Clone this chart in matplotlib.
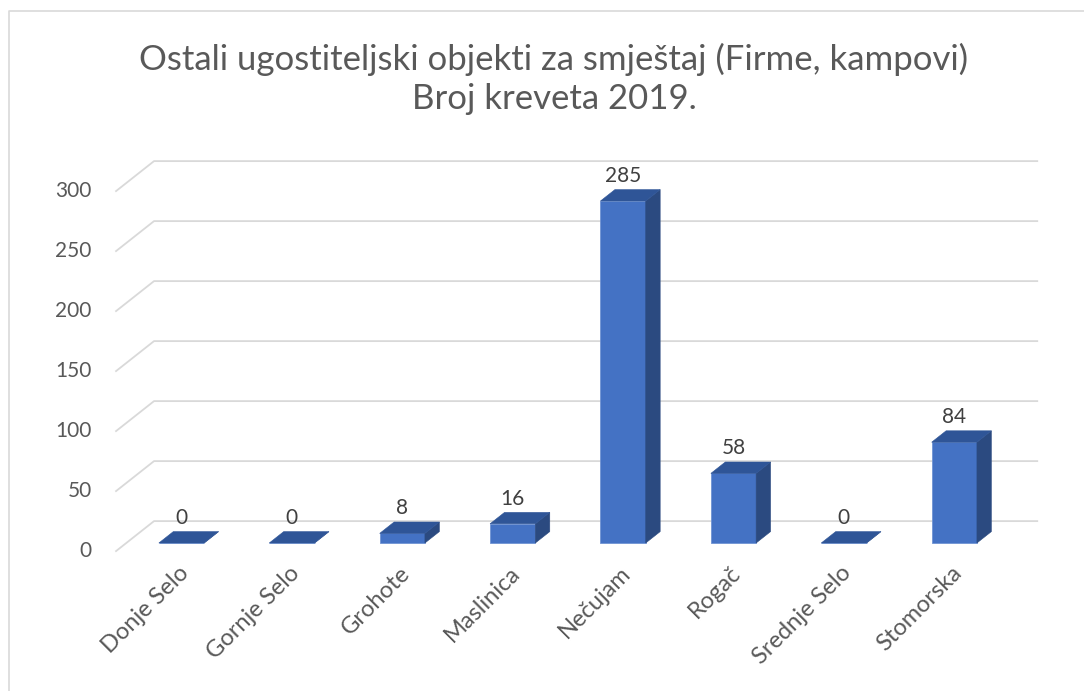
import matplotlib
matplotlib.use("Agg")
import matplotlib.pyplot as plt
from matplotlib.patches import Polygon
from matplotlib.lines import Line2D

categories = ["Donje Selo", "Gornje Selo", "Grohote", "Maslinica",
              "Nečujam", "Rogač", "Srednje Selo", "Stomorska"]
values = [0, 0, 8, 16, 285, 58, 0, 84]
yticks = [0, 50, 100, 150, 200, 250, 300]
title = "Ostali ugostiteljski objekti za smještaj (Firme, kampovi)\nBroj kreveta 2019."

plt.rcParams["font.family"] = ["Lato", "DejaVu Sans"]
GRID = "#d9d9d9"; TXT = "#595959"; LAB = "#404040"
FRONT_C = "#4472c4"; TOP_C = "#2f5597"; SIDE_C = "#2b4a80"

W, H = 1084, 691
fig = plt.figure(figsize=(W / 100, H / 100), dpi=100)
ax = fig.add_axes([0, 0, 1, 1]); ax.axis("off")

# axis limits so that category 0 sits at 181.5px and 1 unit = 1.2px vertically
CX0, CDX = 181.5, 110.4
VY0, VPX = 543, 1.2
ax.set_xlim(-CX0 / CDX, (W - CX0) / CDX)
ax.set_ylim((VY0 - H) / VPX, VY0 / VPX)

# oblique depth vector (data units), planes as fractions of it
DX, DY = 38 / CDX, 30 / VPX
FRONT, BACK, BARD = -0.27, 0.73, 0.38
XL, XR = -0.5, len(categories) - 0.5

for v in yticks:
    xs = [XL + FRONT * DX, XL + BACK * DX, XR + BACK * DX]
    ys = [v + FRONT * DY, v + BACK * DY, v + BACK * DY]
    ax.add_line(Line2D(xs, ys, color=GRID, lw=1.3, zorder=1))
    ax.text(XL + FRONT * DX - 0.22, v + FRONT * DY, str(v), ha="right",
            va="center", fontsize=15, color=TXT)

hw = 0.205
bx, by = BARD * DX, BARD * DY
for i, v in enumerate(values):
    ax.bar(i, v, width=2 * hw, color=FRONT_C, edgecolor="#6f93d3", lw=0.6, zorder=3)
    ax.add_patch(Polygon([(i + hw, 0), (i + hw + bx, by), (i + hw + bx, v + by), (i + hw, v)],
                         closed=True, fc=SIDE_C, ec=SIDE_C, lw=0.4, zorder=3))
    ax.add_patch(Polygon([(i - hw, v), (i + hw, v), (i + hw + bx, v + by), (i - hw + bx, v + by)],
                         closed=True, fc=TOP_C, ec=TOP_C, lw=0.4, zorder=4))
    ax.text(i, v + 21, str(v), ha="center", va="center", fontsize=15, color=LAB, zorder=5)
    ax.text(i - 0.03, -16, categories[i], rotation=45, rotation_mode="anchor",
            ha="right", va="top", fontsize=17, color=TXT)

fig.text(554 / W, 1 - 79 / H, title, ha="center", va="center", fontsize=25,
         color=TXT, linespacing=1.3)

# chart frame (top and left edges visible)
fig.add_artist(Line2D([9 / W, 9 / W, 1], [0, 1 - 11 / H, 1 - 11 / H],
                      transform=fig.transFigure, color=GRID, lw=1.2))

fig.savefig("out.png", dpi=100, facecolor="white")
